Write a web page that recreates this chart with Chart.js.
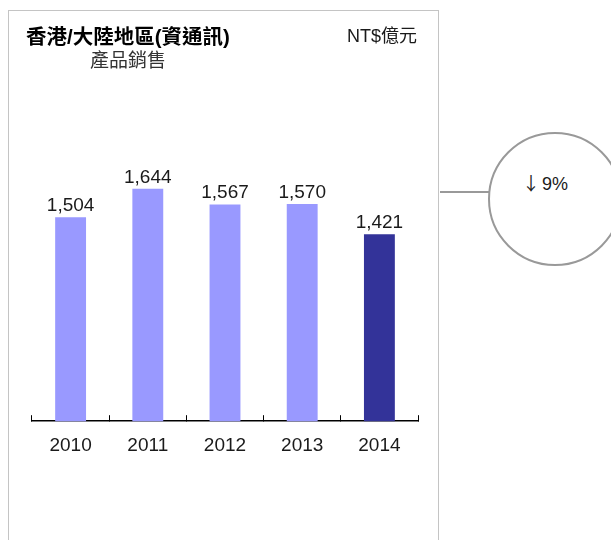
<!DOCTYPE html>
<html>
<head>
<meta charset="utf-8">
<script src="https://cdn.jsdelivr.net/npm/chart.js@4.4.1/dist/chart.umd.min.js"></script>
<style>
  html, body { margin: 0; padding: 0; background: #fff; }
  body { width: 611px; height: 540px; position: relative; overflow: hidden;
         font-family: "Liberation Sans", "Noto Sans CJK TC", Arial, sans-serif; }
  #frame { position: absolute; left: 8px; top: 10px; width: 431px; height: 620px;
           border: 1.5px solid #c4c4c4; box-sizing: border-box; }
  #chart { position: absolute; left: 0; top: 0; }
  .txt { position: absolute; white-space: nowrap; }
  #title { left: 26px; top: 20px; font-size: 20.5px; font-weight: bold; color: #000; }
  #subtitle { left: 90px; top: 45px; font-size: 19px; color: #333; }
  #unit { left: 347px; top: 21px; font-size: 18px; color: #1a1a1a; }
  #link { position: absolute; left: 440px; top: 191px; width: 49px; height: 2px; background: #999; }
  #bubble { position: absolute; left: 488px; top: 132px; width: 134px; height: 134px;
            border: 2px solid #999; border-radius: 50%; box-sizing: border-box; background: #fff; }
  #change { left: 522px; top: 172px; font-size: 18px; line-height: 21px; color: #1a1a1a; }
  #change .arw { font-family: "Noto Sans CJK TC", sans-serif; letter-spacing: -3px; color: #222; }
</style>
</head>
<body>
<div id="frame"></div>
<canvas id="chart" width="611" height="540"></canvas>
<div class="txt" id="title">香港/大陸地區(資通訊)</div>
<div class="txt" id="subtitle">產品銷售</div>
<div class="txt" id="unit">NT$億元</div>
<div id="link"></div>
<div id="bubble"></div>
<div class="txt" id="change"><span class="arw">↓</span> 9%</div>
<script>
const years = ['2010', '2011', '2012', '2013', '2014'];
const sales = [1504, 1644, 1567, 1570, 1421];
const barColors = ['#9999ff', '#9999ff', '#9999ff', '#9999ff', '#333399'];

const valueLabels = {
  id: 'valueLabels',
  afterDatasetsDraw(chart) {
    const ctx = chart.ctx;
    const meta = chart.getDatasetMeta(0);
    ctx.save();
    ctx.font = '19px "Liberation Sans", Arial, sans-serif';
    ctx.fillStyle = '#1a1a1a';
    ctx.textAlign = 'center';
    ctx.textBaseline = 'alphabetic';
    meta.data.forEach((bar, i) => {
      ctx.fillText(sales[i].toLocaleString('en-US'), bar.x, bar.y - 6);
    });
    ctx.restore();
  }
};

new Chart(document.getElementById('chart'), {
  type: 'bar',
  data: {
    labels: years,
    datasets: [{
      data: sales,
      backgroundColor: barColors,
      borderWidth: 0,
      barPercentage: 0.4,
      categoryPercentage: 1
    }]
  },
  options: {
    animation: false,
    responsive: false,
    layout: {
      padding: { left: 32, right: 193, top: 15, bottom: 64 }
    },
    plugins: {
      legend: { display: false },
      tooltip: { enabled: false }
    },
    scales: {
      x: {
        offset: true,
        grid: {
          offset: true,
          drawOnChartArea: false,
          drawTicks: true,
          tickLength: -6,
          color: '#000',
          lineWidth: 1
        },
        border: { display: true, color: '#000', width: 1.5 },
        ticks: {
          color: '#1a1a1a',
          padding: 19,
          font: { family: '"Liberation Sans", Arial, sans-serif', size: 19 }
        }
      },
      y: {
        display: false,
        min: 500,
        max: 2500
      }
    }
  },
  plugins: [valueLabels]
});
</script>
</body>
</html>
